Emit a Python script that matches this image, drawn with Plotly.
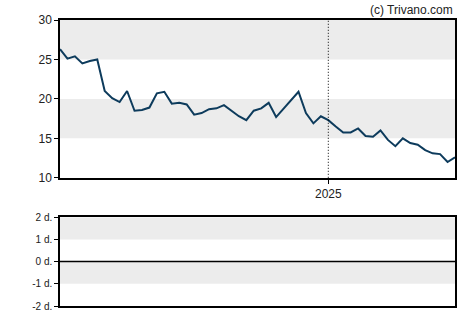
import plotly.graph_objects as go
import pandas as pd

start_date = "2024-04-24"
prices = [26.3, 25.1, 25.4, 24.5, 24.8, 25.0, 21.0, 20.1, 19.6, 21.0,
          18.5, 18.6, 18.9, 20.7, 20.9, 19.4, 19.5, 19.3, 18.0, 18.2,
          18.7, 18.8, 19.2, 18.5, 17.8, 17.3, 18.5, 18.8, 19.5, 17.7,
          18.8, 19.9, 20.9, 18.2, 16.9, 17.8, 17.3, 16.5, 15.75, 15.75,
          16.25, 15.3, 15.2, 16.0, 14.8, 14.0, 15.0, 14.4, 14.2, 13.5,
          13.1, 13.0, 12.0, 12.6]
dates = pd.date_range(start_date, periods=len(prices), freq="7D")

price_ticks = [10, 15, 20, 25, 30]
price_bands = [(25, 30), (15, 20)]
lower_ticks = [-2, -1, 0, 1, 2]
lower_labels = ["-2 d.", "-1 d.", "0 d.", "1 d.", "2 d."]
lower_bands = [(1, 2), (-1, 0)]
year_mark = "2025-01-01"

fig = go.Figure()
fig.add_trace(go.Scatter(x=dates, y=prices, mode="lines",
                         line=dict(color="#0d3b5c", width=2),
                         hoverinfo="skip", showlegend=False,
                         xaxis="x", yaxis="y"))
fig.add_trace(go.Scatter(x=[dates[0], dates[-1]], y=[None, None], mode="lines",
                         showlegend=False, xaxis="x2", yaxis="y2"))

shapes = []
for lo, hi in price_bands:
    shapes.append(dict(type="rect", xref="x domain", yref="y", x0=0, x1=1,
                       y0=lo, y1=hi, fillcolor="#ececec", line_width=0, layer="below"))
for lo, hi in lower_bands:
    shapes.append(dict(type="rect", xref="x2 domain", yref="y2", x0=0, x1=1,
                       y0=lo, y1=hi, fillcolor="#ececec", line_width=0, layer="below"))
shapes.append(dict(type="line", xref="x2 domain", yref="y2", x0=0, x1=1,
                   y0=0, y1=0, line=dict(color="black", width=1.5)))
shapes.append(dict(type="line", xref="x", yref="y domain", x0=year_mark, x1=year_mark,
                   y0=0, y1=1, line=dict(color="black", width=1, dash="1px,2px")))

font = "Liberation Sans, Arial, sans-serif"
axis_common = dict(showline=True, linecolor="black", linewidth=1.5, mirror=True,
                   showgrid=False, zeroline=False)

fig.update_layout(
    width=470, height=325,
    margin=dict(l=60, r=15, t=20, b=15),
    paper_bgcolor="white", plot_bgcolor="white",
    font=dict(family=font, color="#222", size=11),
    shapes=shapes,
    xaxis=dict(domain=[0, 1], anchor="y", range=[dates[0], dates[-1]],
               tickvals=[year_mark], ticktext=["2025"], ticks="outside",
               ticklen=4, tickcolor="black", tickfont=dict(size=12), **axis_common),
    yaxis=dict(domain=[0.4483, 1], anchor="x", range=[10, 30], tickvals=price_ticks,
               ticks="outside", ticklen=4, tickcolor="black",
               tickfont=dict(size=12), **axis_common),
    xaxis2=dict(domain=[0, 1], anchor="y2", range=[dates[0], dates[-1]],
                showticklabels=False, **axis_common),
    yaxis2=dict(domain=[0, 0.3103], anchor="x2", range=[-2, 2], tickvals=lower_ticks,
                ticktext=lower_labels, ticks="outside", ticklen=4, tickcolor="black",
                tickfont=dict(size=10), **axis_common),
    annotations=[dict(text="(c) Trivano.com", xref="paper", yref="paper",
                      x=1, y=1, xanchor="right", yanchor="bottom", yshift=1,
                      showarrow=False, font=dict(size=12, color="#222"))],
)

fig.write_html("out.html")
